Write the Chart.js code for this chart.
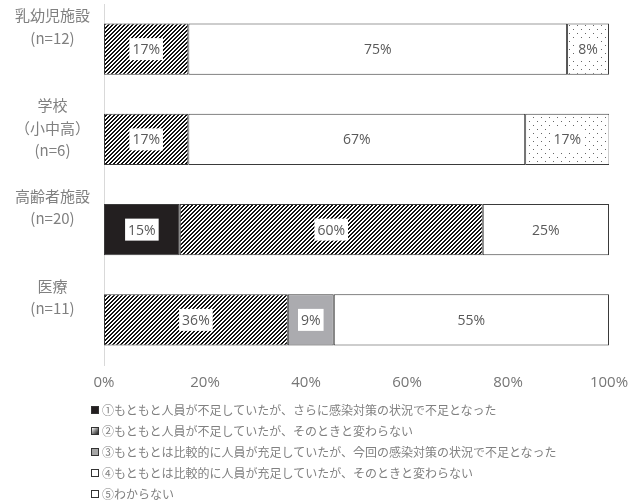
<!DOCTYPE html>
<html lang="ja">
<head>
<meta charset="utf-8">
<script src="https://cdn.jsdelivr.net/npm/chart.js@4/dist/chart.umd.min.js"></script>
<style>
  html, body { margin: 0; padding: 0; background: #fff; }
  #wrap { position: relative; width: 640px; height: 503px; }
  #legend {
    position: absolute; left: 91px; top: 399px;
    font-family: 'Noto Sans CJK JP', 'Noto Sans', sans-serif;
    font-size: 12px; color: #808080;
  }
  .item { display: flex; align-items: center; height: 21px; }
  .sw { width: 6px; height: 6px; border: 1px solid #333; margin-right: 3px; flex: none; }
</style>
</head>
<body>
<div id="wrap">
  <canvas id="chart" width="640" height="503"></canvas>
  <div id="legend"></div>
</div>
<script>
'use strict';

// categories (multi-line labels; trailing blanks lift the text like the original)
const categories = [
  ['乳幼児施設', '(n=12)', '', ''],
  ['学校', '（小中高）', '(n=6)', ''],
  ['高齢者施設', '(n=20)', '', ''],
  ['医療', '(n=11)', '', '']
];

const seriesNames = [
  '①もともと人員が不足していたが、さらに感染対策の状況で不足となった',
  '②もともと人員が不足していたが、そのときと変わらない',
  '③もともとは比較的に人員が充足していたが、今回の感染対策の状況で不足となった',
  '④もともとは比較的に人員が充足していたが、そのときと変わらない',
  '⑤わからない'
];

// percentages per category (乳幼児施設, 学校, 高齢者施設, 医療)
const s1 = [0, 0, 15, 0];
const s2 = [16.7, 16.7, 60, 36.4];
const s3 = [0, 0, 0, 9.1];
const s4 = [75, 66.7, 25, 54.5];
const s5 = [8.3, 16.7, 0, 0];

const xTicks = [0, 20, 40, 60, 80, 100];

// fill patterns
function stripes() {
  const c = document.createElement('canvas');
  c.width = c.height = 4;
  const g = c.getContext('2d');
  g.fillStyle = '#fff';
  g.fillRect(0, 0, 4, 4);
  g.fillStyle = '#111';
  for (let x = 0; x < 4; x++) {
    for (let y = 0; y < 4; y++) {
      if ((x + y) % 4 < 2) g.fillRect(x, y, 1, 1);
    }
  }
  return g.createPattern(c, 'repeat');
}

function dots() {
  const c = document.createElement('canvas');
  c.width = 8; c.height = 8;
  const g = c.getContext('2d');
  g.fillStyle = '#fff';
  g.fillRect(0, 0, 8, 8);
  g.fillStyle = '#666';
  g.fillRect(1, 1, 1, 1);
  g.fillRect(5, 5, 1, 1);
  return g.createPattern(c, 'repeat');
}

const fills = ['#231f20', stripes(), '#ababaf', '#ffffff', dots()];
const values = [s1, s2, s3, s4, s5];

// percentage labels with white box behind
const barLabels = {
  id: 'barLabels',
  afterDatasetsDraw(chart) {
    const ctx = chart.ctx;
    ctx.save();
    ctx.font = '14px "Open Sans", sans-serif';
    ctx.textAlign = 'center';
    ctx.textBaseline = 'middle';
    chart.data.datasets.forEach((ds, i) => {
      chart.getDatasetMeta(i).data.forEach((el, j) => {
        const v = ds.data[j];
        if (!v) return;
        const txt = Math.round(v) + '%';
        const { x, y } = el.getCenterPoint();
        const w = ctx.measureText(txt).width + 6;
        ctx.fillStyle = '#fff';
        ctx.fillRect(x - w / 2, y - 11, w, 22);
        ctx.fillStyle = '#595959';
        ctx.fillText(txt, x, y + 1);
      });
    });
    ctx.restore();
  }
};

new Chart(document.getElementById('chart'), {
  type: 'bar',
  data: {
    labels: categories,
    datasets: values.map((d, i) => ({
      label: seriesNames[i],
      data: d,
      backgroundColor: fills[i],
      borderColor: '#3a3a3a',
      borderWidth: 1,
      borderSkipped: false,
      barPercentage: 0.57,
      categoryPercentage: 1
    }))
  },
  options: {
    indexAxis: 'y',
    responsive: false,
    animation: false,
    layout: { padding: { top: 4, right: 31, bottom: 102, left: 0 } },
    plugins: {
      legend: { display: false },
      tooltip: { enabled: false }
    },
    scales: {
      x: {
        stacked: true,
        min: 0,
        max: 100,
        afterBuildTicks: s => { s.ticks = xTicks.map(v => ({ value: v })); },
        grid: { display: false, drawTicks: false },
        border: { display: false },
        ticks: {
          padding: 9,
          color: '#767676',
          font: { family: 'Open Sans', size: 15 },
          callback: v => v + '%'
        }
      },
      y: {
        stacked: true,
        grid: { display: false, drawTicks: false },
        border: { display: true, color: '#d9d9d9' },
        afterFit: s => { s.width = 104; s.paddingTop = 0; s.paddingBottom = 0; },
        ticks: {
          autoSkip: false,
          crossAlign: 'center',
          padding: 14,
          color: '#808080',
          font: { family: "'Noto Sans CJK JP', 'Open Sans'", size: 15, lineHeight: 1.5 }
        }
      }
    }
  },
  plugins: [barLabels]
});

// legend, one entry per line
const swatch = [
  'background:#231f20;',
  'background:linear-gradient(135deg,#fff 0%,#888 50%,#222 100%);',
  'background:#a6a6a6;',
  'background:#fff;',
  'background:#fff;'
];
document.getElementById('legend').innerHTML = seriesNames.map((n, i) => `
  <div class="item"><span class="sw" style="${swatch[i]}"></span><span>${n}</span></div>
`).join('');
</script>
</body>
</html>
